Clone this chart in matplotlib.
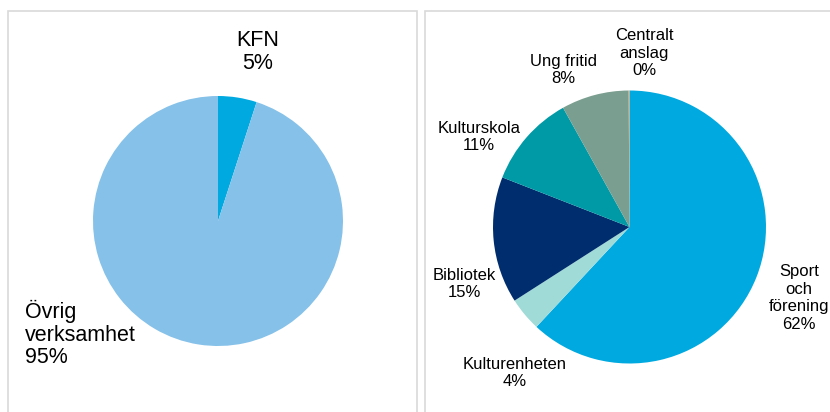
import matplotlib
matplotlib.use("Agg")
import matplotlib.pyplot as plt
from matplotlib.patches import Rectangle

plt.rcParams['font.family'] = ['Liberation Sans', 'DejaVu Sans']

# ---- data ----
left_labels = ["KFN", "Övrig\nverksamhet"]
left_values = [5, 95]
left_colors = ["#00A9E0", "#85C1E9"]

right_labels = ["Sport\noch\nförening", "Kulturenheten", "Bibliotek",
                "Kulturskola", "Ung fritid", "Centralt\nanslag"]
right_values = [62, 4, 15, 11, 8, 0.1]
right_colors = ["#00A9E0", "#A0DBD8", "#002D6E", "#009AA6", "#7A9E8F", "#D4A26A"]

# ---- layout (pixel space, y measured from top) ----
W, H = 830, 412
left_center, left_radius = (218, 221), 125
right_center, right_radius = (629.5, 227), 136.5
left_label_pos = [(258, 52, 'center'), (25, 334, 'left')]
right_label_pos = [(799, 298), (515, 373), (464, 284), (479, 137), (563, 70), (644, 53)]

fig = plt.figure(figsize=(W / 100, H / 100), dpi=100)
ax = fig.add_axes([0, 0, 1, 1])
ax.set_xlim(0, W)
ax.set_ylim(0, H)
ax.set_aspect('equal')
ax.axis('off')

# panel borders
border = "#D9D9D9"
ax.add_patch(Rectangle((8, -10), 409, H - 11 + 10, fill=False, ec=border, lw=1.2))
ax.add_patch(Rectangle((425, -10), 420, H - 11 + 10, fill=False, ec=border, lw=1.2))

def Y(y):
    return H - y

ax.pie(left_values, colors=left_colors, startangle=90, counterclock=False,
       center=(left_center[0], Y(left_center[1])), radius=left_radius,
       wedgeprops=dict(linewidth=0), frame=True)
ax.pie(right_values, colors=right_colors, startangle=90, counterclock=False,
       center=(right_center[0], Y(right_center[1])), radius=right_radius,
       wedgeprops=dict(linewidth=0), frame=True)
ax.set_xlim(0, W)
ax.set_ylim(0, H)
ax.axis('off')

tot_l = sum(left_values)
for lab, v, (x, y, ha) in zip(left_labels, left_values, left_label_pos):
    ax.text(x, Y(y), f"{lab}\n{round(100 * v / tot_l)}%", ha=ha, va='center',
            multialignment=ha, fontsize=15.5, color='#000000', linespacing=1.12)

tot_r = sum(right_values)
for lab, v, (x, y) in zip(right_labels, right_values, right_label_pos):
    ax.text(x, Y(y), f"{lab}\n{round(100 * v / tot_r)}%", ha='center', va='center',
            multialignment='center', fontsize=12, color='#000000', linespacing=1.2)

fig.savefig("out.png", dpi=100)
